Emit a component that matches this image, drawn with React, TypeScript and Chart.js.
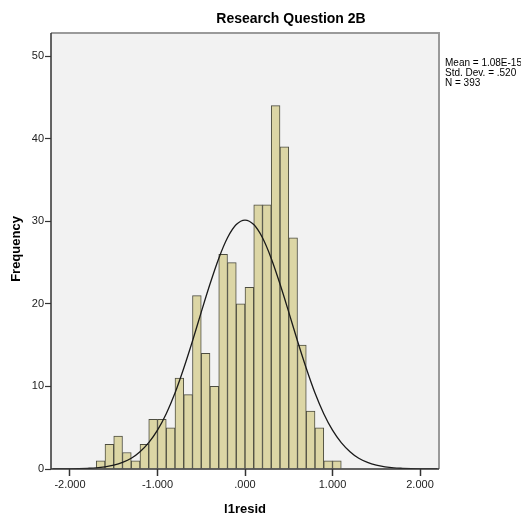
import React, { useEffect, useRef } from "react";
import { Chart, registerables } from "chart.js";

Chart.register(...registerables);

const TITLE = "Research Question 2B";
const X_TITLE = "l1resid";
const Y_TITLE = "Frequency";
const STATS = ["Mean = 1.08E-15", "Std. Dev. = .520", "N = 393"];

// histogram bin centres (bin width 0.1, from -1.7 to 1.1)
const binCenters = [
  -1.65, -1.55, -1.45, -1.35, -1.25, -1.15, -1.05, -0.95, -0.85, -0.75,
  -0.65, -0.55, -0.45, -0.35, -0.25, -0.15, -0.05, 0.05, 0.15, 0.25,
  0.35, 0.45, 0.55, 0.65, 0.75, 0.85, 0.95, 1.05,
];
const frequencies = [
  1, 3, 4, 2, 1, 3, 6, 6, 5, 11,
  9, 21, 14, 10, 26, 25, 20, 22, 32, 32,
  44, 39, 28, 15, 7, 5, 1, 1,
];

// normal curve, values
const curveX = [
  -2.2, -2.1, -2.0, -1.9, -1.8, -1.7, -1.6, -1.5, -1.4, -1.3, -1.2, -1.1, -1.0,
  -0.9, -0.8, -0.7, -0.6, -0.5, -0.4, -0.3, -0.2, -0.1, 0.0, 0.1, 0.2, 0.3,
  0.4, 0.5, 0.6, 0.7, 0.8, 0.9, 1.0, 1.1, 1.2, 1.3, 1.4, 1.5, 1.6, 1.7, 1.8,
  1.9, 2.0, 2.1, 2.2,
];
const curveY = [
  0.0, 0.01, 0.02, 0.04, 0.08, 0.14, 0.27, 0.47, 0.8, 1.3, 2.1, 3.2, 4.7,
  6.7, 9.2, 12.2, 15.5, 19.0, 22.4, 25.5, 28.0, 29.6, 30.15, 29.6, 28.0, 25.5,
  22.4, 19.0, 15.5, 12.2, 9.2, 6.7, 4.7, 3.2, 2.1, 1.3, 0.8, 0.47, 0.27, 0.14, 0.08,
  0.04, 0.02, 0.01, 0.0,
];

const xTicks = [-2, -1, 0, 1, 2];
const yTicks = [0, 10, 20, 30, 40, 50];

const FONT = "Arial, 'Liberation Sans', sans-serif";

function fmtX(v: number): string {
  const s = Math.abs(v).toFixed(3).replace(/^0/, "");
  return (v < 0 ? "-" : "") + s;
}

const decor = {
  id: "decor",
  beforeDatasetsDraw(chart: any) {
    const { ctx, chartArea: a } = chart;
    ctx.save();
    ctx.fillStyle = "#f2f2f2";
    ctx.fillRect(a.left, a.top, a.right - a.left, a.bottom - a.top);
    ctx.restore();
  },
  afterDraw(chart: any) {
    const { ctx, chartArea: a } = chart;
    ctx.save();
    // gray frame top/right
    ctx.strokeStyle = "#9a9a9a";
    ctx.lineWidth = 2;
    ctx.beginPath();
    ctx.moveTo(a.left, a.top);
    ctx.lineTo(a.right, a.top);
    ctx.lineTo(a.right, a.bottom);
    ctx.stroke();
    // dark axes
    ctx.strokeStyle = "#333333";
    ctx.lineWidth = 1.5;
    ctx.beginPath();
    ctx.moveTo(a.left, a.top);
    ctx.lineTo(a.left, a.bottom);
    ctx.lineTo(a.right, a.bottom);
    ctx.stroke();
    // title
    ctx.fillStyle = "#000";
    ctx.textAlign = "center";
    ctx.textBaseline = "middle";
    ctx.font = `bold 14px ${FONT}`;
    ctx.fillText(TITLE, 291, 19);
    // x title
    ctx.font = `bold 13px ${FONT}`;
    ctx.fillText(X_TITLE, 245, 509);
    // y title
    ctx.save();
    ctx.translate(16, 249);
    ctx.rotate(-Math.PI / 2);
    ctx.fillText(Y_TITLE, 0, 0);
    ctx.restore();
    // stats
    ctx.font = `10px ${FONT}`;
    ctx.textAlign = "left";
    STATS.forEach((s, i) => ctx.fillText(s, 445, 63 + i * 10));
    ctx.restore();
  },
};

export default function App() {
  const ref = useRef<HTMLCanvasElement | null>(null);
  useEffect(() => {
    if (!ref.current) return;
    const chart = new Chart(ref.current, {
      type: "bar",
      data: {
        datasets: [
          {
            type: "line",
            data: curveX.map((x, i) => ({ x, y: curveY[i] })),
            borderColor: "#1a1a1a",
            borderWidth: 1.3,
            pointRadius: 0,
            cubicInterpolationMode: "monotone",
            fill: false,
            order: 0,
          } as any,
          {
            type: "bar",
            data: binCenters.map((x, i) => ({ x, y: frequencies[i] })),
            backgroundColor: "#dcd6a5",
            borderColor: "#4d4d40",
            borderWidth: 1,
            barPercentage: 1,
            categoryPercentage: 1,
            order: 1,
          } as any,
        ],
      },
      options: {
        animation: false,
        responsive: false,
        maintainAspectRatio: false,
        layout: { padding: { top: 33, right: 82, left: 0, bottom: 0 } },
        plugins: {
          legend: { display: false },
          tooltip: { enabled: false },
          title: { display: false },
        },
        scales: {
          x: {
            type: "linear",
            min: -2.217,
            max: 2.217,
            offset: false,
            border: { display: false },
            grid: {
              offset: false,
              drawOnChartArea: false,
              drawTicks: true,
              tickLength: 7,
              color: "#333333",
              tickWidth: 1.5,
            },
            afterBuildTicks: (s: any) => {
              s.ticks = xTicks.map((v) => ({ value: v }));
            },
            afterFit: (s: any) => {
              s.height = 50;
            },
            ticks: {
              color: "#222",
              font: { family: FONT, size: 11 },
              padding: 2,
              maxRotation: 0,
              autoSkip: false,
              callback: (v: any) => fmtX(Number(v)),
            },
          },
          y: {
            type: "linear",
            min: 0,
            max: 52.8,
            border: { display: false },
            grid: {
              offset: false,
              drawOnChartArea: false,
              drawTicks: true,
              tickLength: 6,
              color: "#333333",
              tickWidth: 1.2,
            },
            afterBuildTicks: (s: any) => {
              s.ticks = yTicks.map((v) => ({ value: v }));
            },
            afterFit: (s: any) => {
              s.width = 51;
            },
            ticks: {
              color: "#222",
              font: { family: FONT, size: 11 },
              padding: 1,
              autoSkip: false,
            },
          },
        },
      } as any,
      plugins: [decor],
    });
    return () => chart.destroy();
  }, []);
  return (
    <div style={{ position: "fixed", left: 0, top: 0, width: 521, height: 519, background: "#fff" }}>
      <canvas ref={ref} width={521} height={519} style={{ width: 521, height: 519, display: "block" }} />
    </div>
  );
}
